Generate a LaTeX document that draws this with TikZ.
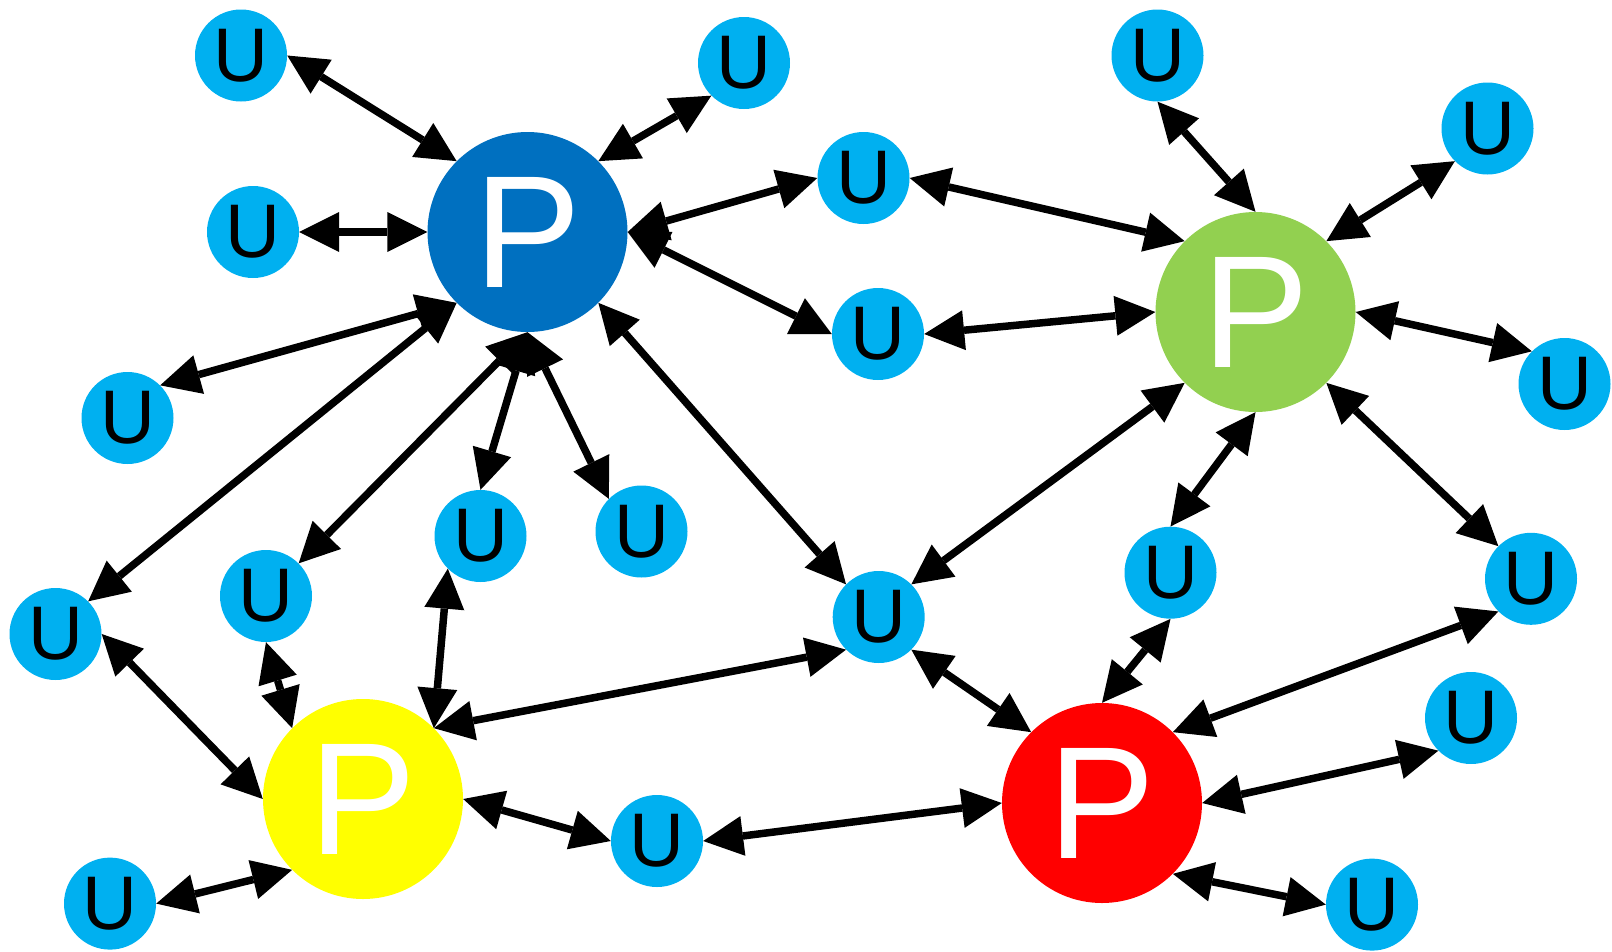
\documentclass[tikz,border=0pt]{standalone}
\usepackage{fontspec}
\setmainfont{Liberation Sans}
\usetikzlibrary{arrows.meta}
\definecolor{pblue}{HTML}{0070C0}
\definecolor{pgreen}{HTML}{92D050}
\definecolor{pyellow}{HTML}{FFFF00}
\definecolor{pred}{HTML}{FF0000}
\definecolor{ucyan}{HTML}{00B0F0}
\tikzset{
  pnode/.style={circle, inner sep=0pt, minimum size=200pt, text=white, font=\fontsize{160}{160}\selectfont},
  unode/.style={circle, inner sep=0pt, minimum size=92pt, fill=ucyan, text=black, font=\fontsize{76}{76}\selectfont},
  link/.style={line width=7.5pt, {Triangle[length=40pt,width=40pt,line width=0pt]}-{Triangle[length=40pt,width=40pt,line width=0pt]}}
}
\begin{document}
\begin{tikzpicture}[x=1pt,y=-1pt]
\useasboundingbox (0,0) rectangle (1612,951);
% P nodes
\node[pnode, fill=pblue]   (bP) at (527.5,232) {P};
\node[pnode, fill=pgreen]  (gP) at (1255.5,312) {P};
\node[pnode, fill=pyellow] (yP) at (363,799) {P};
\node[pnode, fill=pred]    (rP) at (1102,803) {P};
% U nodes
\node[unode] (U1)  at (241,55.5) {U};
\node[unode] (U2)  at (744,63) {U};
\node[unode] (U3)  at (253,232) {U};
\node[unode] (U4)  at (127.5,418) {U};
\node[unode] (U5)  at (863.5,178) {U};
\node[unode] (U6)  at (878,334) {U};
\node[unode] (U7)  at (1157.5,55.5) {U};
\node[unode] (U8)  at (1487.5,128.5) {U};
\node[unode] (U9)  at (1564.5,384) {U};
\node[unode] (U10) at (480.5,536) {U};
\node[unode] (U11) at (641.5,531.5) {U};
\node[unode] (U12) at (266,596) {U};
\node[unode] (U13) at (55.5,634) {U};
\node[unode] (U14) at (878.7,617) {U};
\node[unode] (U15) at (1170.5,572.7) {U};
\node[unode] (U16) at (1531,578.8) {U};
\node[unode] (U17) at (1471,718) {U};
\node[unode] (U18) at (110,903.6) {U};
\node[unode] (U19) at (657,841) {U};
\node[unode] (U20) at (1372,904.6) {U};
% blue P links
\draw[link] (U1.east) -- (bP.north west);
\draw[link] (U2.south west) -- (bP.north east);
\draw[link] (U3.east) -- (bP.west);
\draw[link] (U4.north east) -- (bP.south west);
\draw[link] (U13.north east) -- (bP.south west);
\draw[link] (U12.north east) -- (bP.south);
\draw[link] (U10.north) -- (bP.south);
\draw[link] (U11.north west) -- (bP.south);
\draw[link] (U5.west) -- (bP.east);
\draw[link] (U6.west) -- (bP.east);
\draw[link] (U14.north west) -- (bP.south east);
% green P links
\draw[link] (U7.south) -- (gP.north);
\draw[link] (U8.south west) -- (gP.north east);
\draw[link] (U5.east) -- (gP.north west);
\draw[link] (U6.east) -- (gP.west);
\draw[link] (U9.north west) -- (gP.east);
\draw[link] (U16.north west) -- (gP.south east);
\draw[link] (U15.north) -- (gP.south);
\draw[link] (U14.north east) -- (gP.south west);
% yellow P links
\draw[link] (U13.east) -- (yP.west);
\draw[link] (U12.south) -- (yP.north west);
\draw[link] (U10.south west) -- (yP.north east);
\draw[link] (U14.south west) -- (yP.north east);
\draw[link] (U19.west) -- (yP.east);
\draw[link] (U18.east) -- (yP.south west);
% red P links
\draw[link] (U14.south east) -- (rP.north west);
\draw[link] (U15.south) -- (rP.north);
\draw[link] (U16.south west) -- (rP.north east);
\draw[link] (U17.south west) -- (rP.east);
\draw[link] (U20.west) -- (rP.south east);
\draw[link] (U19.east) -- (rP.west);
\end{tikzpicture}
\end{document}
